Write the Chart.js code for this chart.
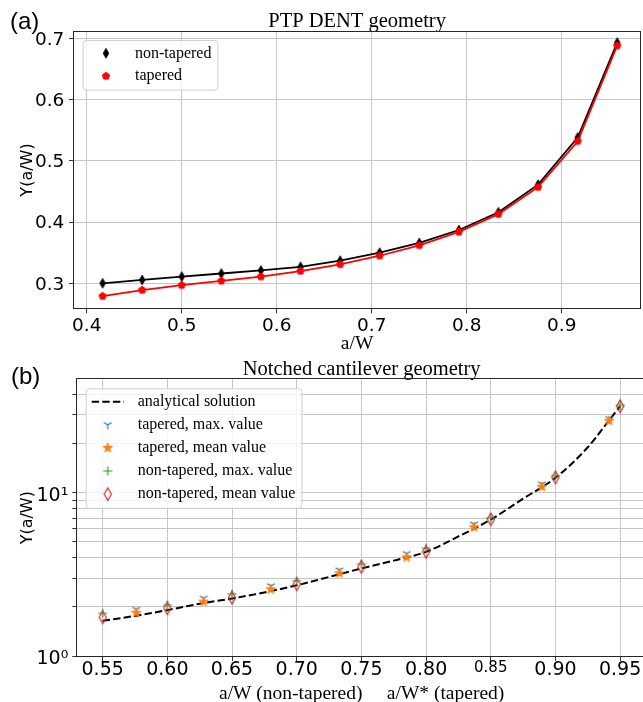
<!DOCTYPE html>
<html><head><meta charset="utf-8">
<script src="https://cdn.jsdelivr.net/npm/chart.js@4.4.0/dist/chart.umd.min.js"></script>
<style>
html,body{margin:0;padding:0;background:#fff;overflow:hidden;width:643px;height:702px;}
#wrap{position:relative;width:643px;height:702px;overflow:hidden;background:#fff;}
canvas{position:absolute;left:0;}
.panel{position:absolute;font-family:'Liberation Sans',Arial,sans-serif;font-size:24px;line-height:24px;color:#000;}
</style></head><body>
<div id="wrap">
<canvas id="top" width="646" height="354" style="top:0;width:646px;height:354px"></canvas>
<canvas id="bot" width="651" height="352" style="top:352px;width:651px;height:352px"></canvas>
<div class="panel" style="left:10px;top:9px">(a)</div>
<div class="panel" style="left:11px;top:364px">(b)</div>
</div>
<script>
// ---------- DATA ----------
// Panel (a): PTP DENT geometry
const xTop = [0.4167,0.4583,0.5,0.5417,0.5833,0.625,0.6667,0.7083,0.75,0.7917,0.8333,0.875,0.9167,0.9583];
const yNonTapered = [0.300,0.3055,0.311,0.316,0.321,0.327,0.337,0.350,0.366,0.387,0.416,0.461,0.538,0.693];
const yTapered = [0.279,0.289,0.297,0.304,0.311,0.320,0.331,0.345,0.362,0.384,0.413,0.457,0.532,0.688];
const xTicksTop = [0.4,0.5,0.6,0.7,0.8,0.9];
const yTicksTop = [0.3,0.4,0.5,0.6,0.7];

// Panel (b): Notched cantilever geometry
const xAnalytic = [0.55,0.575,0.60,0.625,0.65,0.675,0.70,0.725,0.75,0.775,0.80,0.825,0.85,0.875,0.90,0.925,0.9375,0.95];
const yAnalytic = [1.644,1.76,1.91,2.09,2.25,2.45,2.71,3.05,3.44,3.84,4.35,5.4,6.85,9.2,12.35,19.0,25.3,33.9];
const xTaperedB = [0.576,0.628,0.680,0.733,0.785,0.837,0.8895,0.9415];
const yTaperedMax = [1.93,2.26,2.69,3.36,4.24,6.42,11.3,28.5];
const yTaperedMean = [1.84,2.15,2.56,3.21,4.02,6.15,10.88,27.6];
const xNonTaperedB = [0.55,0.60,0.65,0.70,0.75,0.80,0.85,0.90,0.95];
const yNonTaperedMax = [1.826,2.05,2.40,2.89,3.66,4.58,7.02,12.7,34.4];
const yNonTaperedMean = [1.726,1.96,2.275,2.75,3.52,4.35,6.88,12.42,33.9];
const xTicksBot = [0.55,0.60,0.65,0.70,0.75,0.80,0.85,0.90,0.95];
const yTicksBot = [1,2,3,4,5,6,7,8,9,10,20,30,40];
const yMajorBot = [1,10];
const yMajorLabelsBot = ['10\u2070','10\u00B9'];

// ---------- STYLE ----------
const SERIF = "'Liberation Serif', 'Times New Roman', serif";
const SANS = "'DejaVu Sans', sans-serif";
const GRID = '#c6c6c6';

function pts(xs, ys){ return xs.map((x,i)=>({x:x, y:ys[i]})); }
function mk(w,h,draw){const c=document.createElement('canvas');c.width=w;c.height=h;const g=c.getContext('2d');g.translate(w/2,h/2);draw(g);return c;}

const mDiamondBlack = mk(12,14,g=>{g.beginPath();g.moveTo(0,-4.8);g.lineTo(2.7,0);g.lineTo(0,4.8);g.lineTo(-2.7,0);g.closePath();g.fillStyle='#000';g.fill();g.strokeStyle='#000';g.lineWidth=1;g.stroke();});
const mPentRed = mk(12,12,g=>{g.beginPath();for(let k=0;k<5;k++){const a=-Math.PI/2+k*2*Math.PI/5;const px=3.8*Math.cos(a),py=3.8*Math.sin(a);k?g.lineTo(px,py):g.moveTo(px,py);}g.closePath();g.fillStyle='#ff0000';g.fill();g.strokeStyle='#ff0000';g.lineWidth=1;g.stroke();});
const mTriDown = mk(14,14,g=>{const r=4.5;g.strokeStyle='#1f77b4';g.lineWidth=1.2;g.beginPath();g.moveTo(0,0);g.lineTo(0,r);g.moveTo(0,0);g.lineTo(-r*0.866,-r*0.5);g.moveTo(0,0);g.lineTo(r*0.866,-r*0.5);g.stroke();});
const mStar = mk(14,14,g=>{g.beginPath();for(let k=0;k<10;k++){const a=-Math.PI/2+k*Math.PI/5;const r=(k%2)?2.1:5.2;const px=r*Math.cos(a),py=r*Math.sin(a);k?g.lineTo(px,py):g.moveTo(px,py);}g.closePath();g.fillStyle='#ff7f0e';g.fill();g.strokeStyle='#ff7f0e';g.lineWidth=0.8;g.stroke();});
const mPlus = mk(14,14,g=>{const r=4.6;g.strokeStyle='#2ca02c';g.lineWidth=1.2;g.beginPath();g.moveTo(-r,0);g.lineTo(r,0);g.moveTo(0,-r);g.lineTo(0,r);g.stroke();});
const mDiamondOpen = mk(14,18,g=>{g.beginPath();g.moveTo(0,-6.2);g.lineTo(3.6,0);g.lineTo(0,6.2);g.lineTo(-3.6,0);g.closePath();g.strokeStyle='#d62728';g.lineWidth=1.2;g.stroke();});

// ---------- PLUGINS ----------
const framePlugin = {
  id:'frame',
  afterDatasetsDraw(chart){
    const {ctx, chartArea:a} = chart;
    ctx.save(); ctx.strokeStyle='#262626'; ctx.lineWidth=1;
    const l=Math.round(a.left)-0.5, t=Math.round(a.top)-0.5, r=Math.round(a.right)+0.5, b=Math.round(a.bottom)+0.5;
    ctx.strokeRect(l,t,r-l,b-t); ctx.restore();
  }
};
const legendPlugin = {
  id:'mplLegend',
  afterDraw(chart, args, o){
    const {ctx, chartArea:a} = chart;
    const ds = chart.data.datasets;
    ctx.save();
    ctx.font = o.font;
    const maxW = Math.max(...ds.map(d=>ctx.measureText(d.label).width));
    const x0 = a.left + o.offsetX, y0 = a.top + o.offsetY;
    const w = o.textX + maxW + o.padRight;
    const h = o.firstY + (ds.length-1)*o.spacing + o.padBottom;
    ctx.beginPath();
    if (ctx.roundRect) ctx.roundRect(x0+0.5,y0+0.5,w,h,3); else ctx.rect(x0+0.5,y0+0.5,w,h);
    ctx.fillStyle='rgba(255,255,255,0.8)'; ctx.fill();
    ctx.strokeStyle='#d0d0d0'; ctx.lineWidth=1; ctx.stroke();
    ds.forEach((d,i)=>{
      const yy = y0 + o.firstY + i*o.spacing;
      if (d.legendLine) {
        ctx.save(); ctx.strokeStyle=d.borderColor; ctx.lineWidth=d.borderWidth; ctx.setLineDash(d.borderDash||[]);
        ctx.beginPath(); ctx.moveTo(x0+o.lineX0, yy); ctx.lineTo(x0+o.lineX1, yy); ctx.stroke(); ctx.restore();
      } else {
        const s = d.pointStyle;
        ctx.drawImage(s, x0+o.markerX - s.width/2, yy - s.height/2);
      }
      ctx.fillStyle='#000'; ctx.textBaseline='middle'; ctx.textAlign='left';
      ctx.fillText(d.label, x0+o.textX, yy);
    });
    ctx.restore();
  }
};

function gridOpts(){ return {color:GRID, lineWidth:1, tickColor:'#333', tickLength:5, tickWidth:1, drawTicks:true}; }

// ---------- PANEL (a) ----------
new Chart(document.getElementById('top'), {
  type:'scatter',
  data:{ datasets:[
    {label:'non-tapered', data:pts(xTop,yNonTapered), showLine:true, borderColor:'#000', borderWidth:1.8, pointStyle:mDiamondBlack, pointRadius:4, order:2},
    {label:'tapered', data:pts(xTop,yTapered), showLine:true, borderColor:'#ff0000', borderWidth:1.8, pointStyle:mPentRed, pointRadius:4, order:1}
  ]},
  options:{
    responsive:false, animation:false, devicePixelRatio:1, events:[],
    layout:{padding:{left:0,right:4.3,top:0,bottom:0.25}},
    plugins:{
      legend:{display:false}, tooltip:{enabled:false},
      title:{display:true, text:'PTP DENT geometry', fullSize:false, color:'#000', font:{family:SERIF,size:20.5,weight:'normal',lineHeight:0.9}, padding:{top:12.3,bottom:0.95}},
      mplLegend:{font:"16px "+SERIF, offsetX:8.7, offsetY:8.3, markerX:23.3, textX:52.3, firstY:13.3, spacing:22.8, padBottom:13.5, padRight:6}
    },
    scales:{
      x:{type:'linear', min:0.3866, max:0.9825,
        afterBuildTicks:s=>{s.ticks=xTicksTop.map(v=>({value:v}));},
        afterFit:s=>{s.height=45.45;},
        grid:gridOpts(), border:{display:false},
        ticks:{color:'#000', padding:3.2, autoSkip:false, maxRotation:0, font:{family:SANS,size:18.5,lineHeight:1}, callback:v=>v.toFixed(1)},
        title:{display:true, text:'a/W', color:'#000', font:{family:SERIF,size:19.5,lineHeight:1}, padding:{top:0,bottom:0}}
      },
      y:{type:'linear', min:0.2592, max:0.7108,
        afterBuildTicks:s=>{s.ticks=yTicksTop.map(v=>({value:v}));},
        afterFit:s=>{s.width=74;},
        grid:gridOpts(), border:{display:false},
        ticks:{color:'#000', padding:4.7, labelOffset:1.5, autoSkip:false, font:{family:SANS,size:18.5,lineHeight:1}, callback:v=>v.toFixed(1)},
        title:{display:true, text:'Y(a/W)', color:'#000', font:{family:SANS,size:16,lineHeight:1.2}, padding:{top:18.4,bottom:0}}
      }
    }
  },
  plugins:[framePlugin, legendPlugin]
});

// ---------- PANEL (b) ----------
new Chart(document.getElementById('bot'), {
  type:'scatter',
  data:{ datasets:[
    {label:'analytical solution', data:pts(xAnalytic,yAnalytic), showLine:true, borderColor:'#000', borderWidth:2, borderDash:[7.4,3.2], pointRadius:0, cubicInterpolationMode:'monotone', legendLine:true, order:5},
    {label:'tapered, max. value', data:pts(xTaperedB,yTaperedMax), showLine:false, pointStyle:mTriDown, pointRadius:4, order:4},
    {label:'tapered, mean value', data:pts(xTaperedB,yTaperedMean), showLine:false, pointStyle:mStar, pointRadius:4, order:3},
    {label:'non-tapered, max. value', data:pts(xNonTaperedB,yNonTaperedMax), showLine:false, pointStyle:mPlus, pointRadius:4, order:2},
    {label:'non-tapered, mean value', data:pts(xNonTaperedB,yNonTaperedMean), showLine:false, pointStyle:mDiamondOpen, pointRadius:4, order:1}
  ]},
  options:{
    responsive:false, animation:false, devicePixelRatio:1, events:[],
    layout:{padding:{left:0,right:4.8,top:0,bottom:0.75}},
    plugins:{
      legend:{display:false}, tooltip:{enabled:false},
      title:{display:true, text:'Notched cantilever geometry', fullSize:false, color:'#000', font:{family:SERIF,size:20.5,weight:'normal',lineHeight:0.9}, padding:{top:8.8,bottom:0.15}},
      mplLegend:{font:"16px "+SERIF, offsetX:8.4, offsetY:8.9, markerX:22, lineX0:6, lineX1:38.3, textX:52, firstY:13.4, spacing:23.1, padBottom:13.7, padRight:6}
    },
    scales:{
      x:{type:'linear', min:0.5304, max:0.97,
        afterBuildTicks:s=>{s.ticks=xTicksBot.map(v=>({value:v}));},
        afterFit:s=>{s.height=47.25;},
        grid:gridOpts(), border:{display:false},
        ticks:{color:'#000', padding:0, autoSkip:false, maxRotation:0,
          font:(c)=>(c.tick && Math.abs(c.tick.value-0.85)<1e-6)?{family:SANS,size:15,lineHeight:1}:{family:SANS,size:19,lineHeight:1},
          callback:v=>v.toFixed(2)},
        title:{display:true, text:'a/W (non-tapered)     a/W* (tapered)', color:'#000', font:{family:SERIF,size:19.5,lineHeight:1}, padding:{top:0,bottom:0}}
      },
      y:{type:'logarithmic', min:1, max:49.5,
        afterBuildTicks:s=>{s.ticks=yTicksBot.map(v=>({value:v, major:yMajorBot.includes(v)}));},
        afterFit:s=>{s.width=77.3;},
        grid:gridOpts(), border:{display:false},
        ticks:{color:'#000', padding:4, labelOffset:3, autoSkip:false, font:{family:SANS,size:19,lineHeight:1},
          callback:v=>{const i=yMajorBot.indexOf(v); return i>=0?yMajorLabelsBot[i]:'';}},
        title:{display:true, text:'Y(a/W)', color:'#000', font:{family:SANS,size:16,lineHeight:1.2}, padding:{top:18.7,bottom:0}}
      }
    }
  },
  plugins:[framePlugin, legendPlugin]
});
</script>
</body></html>
